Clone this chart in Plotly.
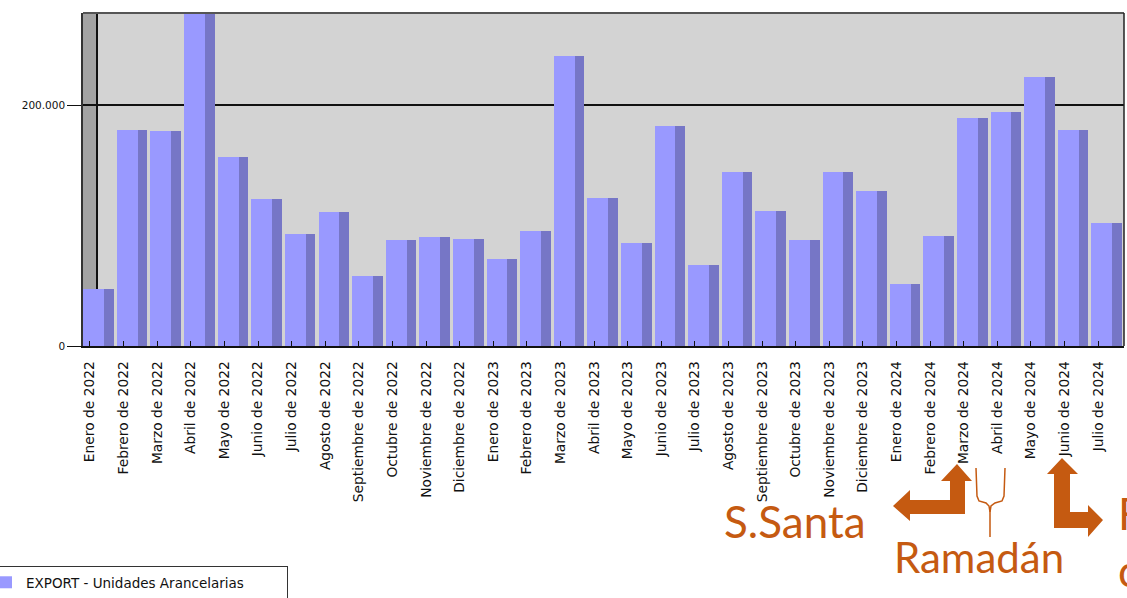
import plotly.graph_objects as go

months = ["Enero", "Febrero", "Marzo", "Abril", "Mayo", "Junio", "Julio", "Agosto",
          "Septiembre", "Octubre", "Noviembre", "Diciembre"]
categories = [f"{m} de 2022" for m in months] + [f"{m} de 2023" for m in months] + \
             [f"{m} de 2024" for m in months[:7]]
values = [47000, 179500, 178400, 276000, 157000, 122000, 93000, 111200, 58100, 88000, 90500, 88800,
          72200, 95400, 240700, 122800, 85500, 182600, 67200, 144400, 112000, 88000, 144400, 128600,
          51500, 91300, 189200, 194200, 223200, 179250, 102000]
ytick_vals = [0, 200000]
ytick_text = ["0", "200.000"]
series_name = "EXPORT - Unidades Arancelarias"

W, H = 1127, 598
L, R, T, B = 83, 1124, 13, 346
ORANGE = "#c55a11"


def px(x, y):
    return (x - L) / (R - L), (B - y) / (B - T)


def path(points, close=True):
    s = ""
    for i, (x, y) in enumerate(points):
        a, b = px(x, y)
        s += ("M" if i == 0 else "L") + f"{a:.5f},{b:.5f} "
    return s + ("Z" if close else "")


idx = list(range(len(categories)))
fig = go.Figure()
# side (depth) faces
fig.add_trace(go.Bar(x=idx, y=values, offset=-0.2, width=0.91, marker_color="#7676c6",
                     marker_line_width=0, showlegend=False, hoverinfo="skip"))
# front faces
fig.add_trace(go.Bar(x=idx, y=values, offset=-0.2, width=0.62, marker_color="#9999ff",
                     marker_line_width=0, name=series_name, showlegend=True))

shapes = []
# left wall
x0, _ = px(L, 0)
x1, _ = px(97, 0)
shapes.append(dict(type="rect", xref="paper", yref="paper", x0=x0, x1=x1, y0=0, y1=1,
                   fillcolor="#a3a3a3", line_width=0, layer="below"))
shapes.append(dict(type="line", xref="paper", yref="paper", x0=x1, x1=x1, y0=0, y1=1,
                   line=dict(color="#111", width=2), layer="below"))
# top and right borders
shapes.append(dict(type="line", xref="paper", yref="paper", x0=0, x1=1, y0=1, y1=1,
                   line=dict(color="#555", width=2), layer="above"))
shapes.append(dict(type="line", xref="paper", yref="paper", x0=1, x1=1, y0=0, y1=1,
                   line=dict(color="#222", width=1.5), layer="above"))

# arrows
left_arrow = [(957, 464), (972, 481), (965, 481), (965, 514), (910, 514), (910, 521), (893, 506),
              (910, 490), (910, 500), (950, 500), (950, 481), (941, 481)]
right_arrow = [(1062, 458), (1078, 474), (1070, 474), (1070, 512), (1088, 512), (1088, 505),
               (1103, 520), (1088, 537), (1088, 528), (1054, 528), (1054, 474), (1047, 474)]
for pts in (left_arrow, right_arrow):
    shapes.append(dict(type="path", xref="paper", yref="paper", path=path(pts),
                       fillcolor=ORANGE, line_width=0, layer="above"))
brace_l = [(976, 468), (977, 496), (979, 501), (986, 503), (989, 506), (990, 512), (990, 537)]
brace_r = [(1005, 468), (1004, 496), (1002, 501), (995, 503), (991, 506), (990, 512)]
for pts in (brace_l, brace_r):
    shapes.append(dict(type="path", xref="paper", yref="paper", path=path(pts, close=False),
                       line=dict(color=ORANGE, width=1.5), layer="above"))

annotations = []
for text, x, y, size in [("S.Santa", 722, 521, 44), ("Ramadán", 892, 557, 42),
                         ("Fin de", 1116, 513, 44), ("curso", 1116, 570, 44)]:
    a, b = px(x, y)
    annotations.append(dict(text=text, x=a, y=b, xref="paper", yref="paper", xanchor="left",
                            yanchor="middle", showarrow=False,
                            font=dict(family="Lato", size=size, color=ORANGE)))

lx, ly = px(-15, 566)
fig.update_layout(
    width=W, height=H,
    margin=dict(l=L, r=W - R, t=T, b=H - B, pad=0, autoexpand=False),
    paper_bgcolor="white", plot_bgcolor="#d3d3d3",
    barmode="overlay", bargap=0,
    font=dict(family="DejaVu Sans", size=11, color="#111"),
    shapes=shapes, annotations=annotations,
    showlegend=True,
    legend=dict(x=lx, y=ly, xanchor="left", yanchor="top", bgcolor="white",
                bordercolor="#333", borderwidth=1, font=dict(size=13.5, family="DejaVu Sans"),
                orientation="h", entrywidth=256, itemsizing="constant"),
    xaxis=dict(range=[-0.208, 30.77], tickmode="array", tickvals=idx, ticktext=categories,
               tickangle=-90, showgrid=False, zeroline=False, showline=True,
               linecolor="#111", linewidth=1.5, ticks="inside", ticklen=5, tickcolor="#111",
               tickfont=dict(size=13.8), ticklabelstandoff=8, automargin=False),
    yaxis=dict(range=[0, 276350], tickmode="array", tickvals=ytick_vals, ticktext=ytick_text,
               showgrid=True, gridcolor="#111", gridwidth=1.5, zeroline=False, showline=True,
               linecolor="#333", linewidth=1.5, ticks="outside", ticklen=14, tickcolor="#111",
               tickfont=dict(size=10.5), automargin=False),
)
fig.write_html("out.html", post_script="document.body.style.margin='0';",
               config={"displayModeBar": False})
